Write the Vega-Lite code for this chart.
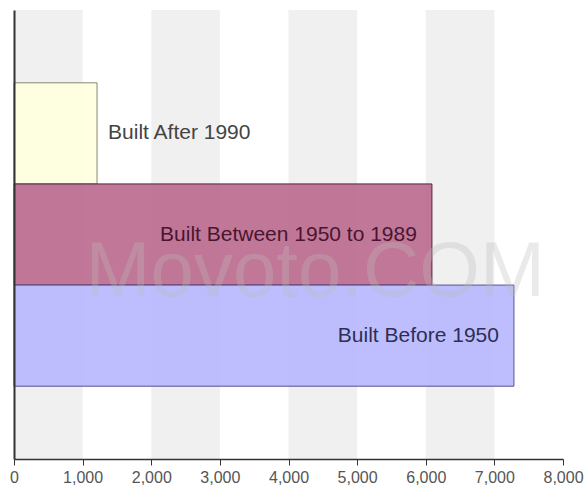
{
  "$schema": "https://vega.github.io/schema/vega-lite/v6.json",
  "width": 549,
  "height": 449,
  "autosize": {"type": "none"},
  "padding": {"left": 14, "top": 10, "right": 23, "bottom": 37},
  "background": "white",
  "config": {"view": {"stroke": null}, "font": "Liberation Sans"},
  "datasets": {
    "bars": [
      {"category": "Built After 1990", "value": 1210},
      {"category": "Built Between 1950 to 1989", "value": 6090},
      {"category": "Built Before 1950", "value": 7285}
    ],
    "stripes": [
      {"start": 0, "end": 1000},
      {"start": 2000, "end": 3000},
      {"start": 4000, "end": 5000},
      {"start": 6000, "end": 7000}
    ],
    "mark": [
      {"text": "Movoto.COM", "x": 4390, "category": "Built Between 1950 to 1989"}
    ]
  },
  "layer": [
    {
      "data": {"name": "stripes"},
      "mark": {"type": "rect", "color": "#f0f0f0"},
      "encoding": {
        "x": {"field": "start", "type": "quantitative", "scale": {"domain": [0, 8000], "nice": false}},
        "x2": {"field": "end"}
      }
    },
    {
      "data": {"name": "bars"},
      "mark": {"type": "bar", "strokeWidth": 1, "fillOpacity": 0.88},
      "encoding": {
        "y": {
          "field": "category", "type": "nominal",
          "sort": ["Built After 1990", "Built Between 1950 to 1989", "Built Before 1950"],
          "scale": {"paddingInner": 0, "paddingOuter": 0.72},
          "axis": {"title": null, "labels": false, "ticks": false, "domain": true, "domainColor": "#333", "domainWidth": 2, "zindex": 1}
        },
        "x": {
          "field": "value", "type": "quantitative",
          "scale": {"domain": [0, 8000], "nice": false},
          "axis": {"title": null, "values": [0,1000,2000,3000,4000,5000,6000,7000,8000], "format": ",.0f", "grid": false, "domainColor": "#333", "domainWidth": 1.5, "tickColor": "#333", "tickSize": 6, "labelColor": "#555", "labelFontSize": 16, "labelPadding": 4, "labelFlush": false, "zindex": 1}
        },
        "color": {
          "field": "category", "type": "nominal", "legend": null,
          "scale": {"domain": ["Built After 1990", "Built Between 1950 to 1989", "Built Before 1950"], "range": ["#ffffde", "#b8658a", "#b5b5ff"]}
        },
        "stroke": {
          "field": "category", "type": "nominal", "legend": null,
          "scale": {"domain": ["Built After 1990", "Built Between 1950 to 1989", "Built Before 1950"], "range": ["#888877", "#552244", "#55558f"]}
        }
      }
    },
    {
      "data": {"name": "mark"},
      "mark": {"type": "text", "fontSize": 78, "fontWeight": 300, "color": "#bbbbbb", "opacity": 0.3, "align": "center", "baseline": "middle", "dy": 38},
      "encoding": {
        "x": {"field": "x", "type": "quantitative"},
        "y": {"field": "category", "type": "nominal", "sort": ["Built After 1990", "Built Between 1950 to 1989", "Built Before 1950"]},
        "text": {"field": "text"}
      }
    },
    {
      "data": {"name": "bars"},
      "transform": [{"filter": "datum.value > 3000"}],
      "mark": {"type": "text", "align": "right", "baseline": "middle", "dx": -15, "fontSize": 21},
      "encoding": {
        "y": {"field": "category", "type": "nominal", "sort": ["Built After 1990", "Built Between 1950 to 1989", "Built Before 1950"]},
        "x": {"field": "value", "type": "quantitative"},
        "text": {"field": "category"},
        "color": {
          "field": "category", "type": "nominal", "legend": null,
          "scale": {"domain": ["Built After 1990", "Built Between 1950 to 1989", "Built Before 1950"], "range": ["#444444", "#4a1530", "#2e2e55"]}
        }
      }
    },
    {
      "data": {"name": "bars"},
      "transform": [{"filter": "datum.value <= 3000"}],
      "mark": {"type": "text", "align": "left", "baseline": "middle", "dx": 11, "fontSize": 21, "color": "#444444"},
      "encoding": {
        "y": {"field": "category", "type": "nominal", "sort": ["Built After 1990", "Built Between 1950 to 1989", "Built Before 1950"]},
        "x": {"field": "value", "type": "quantitative"},
        "text": {"field": "category"}
      }
    }
  ],
  "resolve": {"scale": {"color": "independent"}}
}
